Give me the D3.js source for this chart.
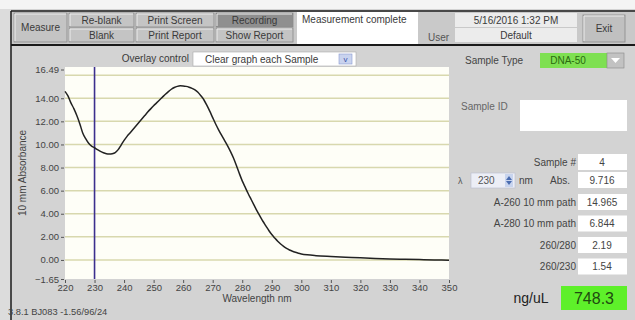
<!DOCTYPE html>
<html><head><meta charset="utf-8">
<script src="https://cdn.jsdelivr.net/npm/d3@7/dist/d3.min.js"></script>
<style>
body{margin:0;background:#fff;}
svg{display:block;font-family:"Liberation Sans",Arial,sans-serif;}
</style></head>
<body>
<svg id="c" width="635" height="320"></svg>
<script>
// ---- data ----
const wavelengths = [220,221,222,223,224,225,226,227,228,229,230,231,232,233,234,235,236,237,238,239,240,241,242,243,244,245,246,247,248,249,250,251,252,253,254,255,256,257,258,259,260,261,262,263,264,265,266,267,268,269,270,271,272,273,274,275,276,277,278,279,280,281,282,283,284,285,286,287,288,289,290,291,292,293,294,295,296,297,298,299,300,302,305,310,315,320,325,330,335,340,345,350];
const absorbance = [14.6,14.2,13.6,13.1,12.5,11.8,11.0,10.5,10.1,9.85,9.716,9.55,9.4,9.28,9.2,9.17,9.2,9.3,9.55,9.95,10.35,10.7,11.0,11.3,11.6,11.9,12.2,12.5,12.8,13.08,13.35,13.6,13.85,14.1,14.35,14.58,14.78,14.93,15.03,15.08,15.07,15.03,14.96,14.86,14.72,14.52,14.22,13.87,13.4,12.88,12.32,11.77,11.27,10.8,10.35,9.9,9.4,8.85,8.2,7.5,6.85,6.3,5.75,5.25,4.75,4.25,3.8,3.35,2.95,2.55,2.2,1.9,1.62,1.38,1.17,1.0,0.86,0.75,0.66,0.58,0.52,0.44,0.37,0.3,0.24,0.18,0.13,0.09,0.06,0.03,0.0,-0.03];
const yTicks = [-1.65,0,2,4,6,8,10,12,14,16.49];
const gridValues = [0,2,4,6,8,10,12,14,16];
const xTicks = [220,230,240,250,260,270,280,290,300,310,320,330,340,350];
const cursorWavelength = 230;
const toolbarTop = ["Re-blank","Print Screen","Recording"];
const toolbarBottom = ["Blank","Print Report","Show Report"];
const resultLabels = ["A-260 10 mm path","A-280 10 mm path","260/280","260/230"];
const resultValues = ["14.965","6.844","2.19","1.54"];
const sampleNumber = "4";
const absAtCursor = "9.716";
const concentration = "748.3";

const svg = d3.select("#c");
const txt = "#3a3a3a";

// background
svg.append("rect").attr("width",635).attr("height",320).attr("fill","#d3d3d3");
svg.append("rect").attr("width",635).attr("height",9).attr("fill","#f4f4f4");
svg.append("rect").attr("x",0).attr("y",9).attr("width",11).attr("height",311).attr("fill","#dcdcdc");
// frame lines
svg.append("line").attr("x1",11).attr("x2",635).attr("y1",11).attr("y2",11).attr("stroke","#1a1a1a").attr("stroke-width",1.5);
svg.append("line").attr("x1",11).attr("x2",11).attr("y1",11).attr("y2",320).attr("stroke","#1a1a1a").attr("stroke-width",1.5);
svg.append("line").attr("x1",11).attr("x2",635).attr("y1",45).attr("y2",45).attr("stroke","#1a1a1a").attr("stroke-width",2);
svg.append("rect").attr("x",12).attr("y",12).attr("width",623).attr("height",32).attr("fill","#c9c9c9");

function button(x,y,w,h,label,fill,fs){
  const g = svg.append("g");
  g.append("rect").attr("x",x).attr("y",y).attr("width",w).attr("height",h).attr("fill",fill||"#c4c4c4")
    .attr("stroke","#8a8a8a").attr("stroke-width",0.8);
  g.append("line").attr("x1",x+1).attr("x2",x+w-1).attr("y1",y+1).attr("y2",y+1).attr("stroke","#ececec");
  g.append("line").attr("x1",x+1).attr("x2",x+1).attr("y1",y+1).attr("y2",y+h-1).attr("stroke","#ececec");
  g.append("text").attr("x",x+w/2).attr("y",y+h/2+3.5).attr("text-anchor","middle")
    .attr("font-size",fs||10).attr("fill",txt).text(label);
}
button(14,13,53,29,"Measure");
const bx = [69,136,216], bw = [65,78,77];
toolbarTop.forEach((t,i)=>button(bx[i],13,bw[i],14,t, t==="Recording"?"#8f8f8f":"#c4c4c4"));
toolbarBottom.forEach((t,i)=>button(bx[i],28,bw[i],14,t));
// status box
svg.append("rect").attr("x",297).attr("y",12).attr("width",121).attr("height",32).attr("fill","#fff");
svg.append("text").attr("x",302).attr("y",23).attr("font-size",10).attr("fill",txt).text("Measurement complete");
svg.append("text").attr("x",428).attr("y",41).attr("font-size",10).attr("fill","#555").text("User");
svg.append("rect").attr("x",455).attr("y",13).attr("width",122).attr("height",14).attr("fill","#ececec");
svg.append("text").attr("x",516).attr("y",24).attr("text-anchor","middle").attr("font-size",10).attr("fill",txt).text("5/16/2016  1:32 PM");
svg.append("rect").attr("x",455).attr("y",28).attr("width",122).attr("height",14).attr("fill","#ececec");
svg.append("text").attr("x",516).attr("y",39).attr("text-anchor","middle").attr("font-size",10).attr("fill",txt).text("Default");
button(583,15,42,27,"Exit","#c0c0c0",10);

// overlay control
svg.append("text").attr("x",189).attr("y",62).attr("text-anchor","end").attr("font-size",10).attr("fill",txt).text("Overlay control");
svg.append("rect").attr("x",193).attr("y",52).attr("width",163).attr("height",14).attr("fill","#fff").attr("stroke","#aaa").attr("stroke-width",0.6);
svg.append("text").attr("x",205).attr("y",63).attr("font-size",10).attr("fill",txt).text("Clear graph each Sample");
svg.append("rect").attr("x",339).attr("y",54).attr("width",13).attr("height",10).attr("fill","#c9d3ee").attr("stroke","#8a9ad0").attr("stroke-width",0.6);
svg.append("text").attr("x",345.5).attr("y",62).attr("text-anchor","middle").attr("font-size",8).attr("fill","#3a4fa8").text("v");

// ---- chart ----
const x = d3.scaleLinear().domain([220,350]).range([65,449]);
const y = d3.scaleLinear().domain([-1.65,16.49]).range([279,69.5]);

svg.append("rect").attr("x",65).attr("y",67).attr("width",384).attr("height",212).attr("fill","#fefef7");
svg.append("g").selectAll("line").data(gridValues).join("line")
  .attr("x1",65).attr("x2",449).attr("y1",d=>y(d)).attr("y2",d=>y(d))
  .attr("stroke","#d8d8ae").attr("stroke-width",1.5);

const yAxis = svg.append("g").attr("transform","translate(64,0)")
  .call(d3.axisLeft(y).tickValues(yTicks).tickFormat(d3.format(".2f")).tickSize(3).tickPadding(2));
yAxis.select(".domain").remove();
yAxis.selectAll("text").attr("font-size",9.5).attr("fill","#444").attr("font-family","Liberation Sans, Arial, sans-serif");
yAxis.selectAll("line").attr("stroke","#555");

const xAxis = svg.append("g").attr("transform","translate(0,280)")
  .call(d3.axisBottom(x).tickValues(xTicks).tickFormat(d3.format("d")).tickSize(3).tickPadding(1.5));
xAxis.select(".domain").remove();
xAxis.selectAll("text").attr("font-size",9.5).attr("fill","#444").attr("font-family","Liberation Sans, Arial, sans-serif");
xAxis.selectAll("line").attr("stroke","#555");

svg.append("text").attr("x",257).attr("y",302).attr("text-anchor","middle").attr("font-size",10).attr("fill","#444").text("Wavelength nm");
svg.append("text").attr("transform","translate(26,173) rotate(-90)").attr("text-anchor","middle").attr("font-size",10).attr("fill","#444").text("10 mm Absorbance");

// cursor line
svg.append("line").attr("x1",x(cursorWavelength)).attr("x2",x(cursorWavelength)).attr("y1",67).attr("y2",279)
  .attr("stroke","#3c2f8e").attr("stroke-width",1.6);

const pts = wavelengths.map((w,i)=>[w,absorbance[i]]);
svg.append("path").datum(pts)
  .attr("d",d3.line().x(d=>x(d[0])).y(d=>y(d[1])).curve(d3.curveMonotoneX))
  .attr("fill","none").attr("stroke","#222").attr("stroke-width",1.5);

svg.append("text").attr("x",8).attr("y",315).attr("font-size",9.3).attr("fill","#444").text("3.8.1 BJ083 -1.56/96/24");

// ---- right panel ----
svg.append("text").attr("x",465).attr("y",64).attr("font-size",10).attr("fill","#444").text("Sample Type");
svg.append("rect").attr("x",540).attr("y",53).attr("width",67).attr("height",15).attr("fill","#7ee052");
svg.append("text").attr("x",568).attr("y",64).attr("text-anchor","middle").attr("font-size",10).attr("fill","#2a6a10").text("DNA-50");
svg.append("rect").attr("x",607).attr("y",53).attr("width",17).attr("height",15).attr("fill","#c2c2c2").attr("stroke","#888").attr("stroke-width",0.6);
svg.append("path").attr("d","M611,58 L620,58 L615.5,63 Z").attr("fill","#fff");

svg.append("text").attr("x",461).attr("y",110).attr("font-size",10).attr("fill","#666").text("Sample ID");
svg.append("rect").attr("x",520).attr("y",100).attr("width",107).attr("height",31).attr("fill","#fff");

function field(yTop,label,val,lx){
  svg.append("text").attr("x",lx||576).attr("y",yTop+11.5).attr("text-anchor","end").attr("font-size",10).attr("fill","#444").text(label);
  svg.append("rect").attr("x",578).attr("y",yTop).attr("width",49).attr("height",16).attr("fill","#fff");
  svg.append("text").attr("x",602).attr("y",yTop+11.5).attr("text-anchor","middle").attr("font-size",10).attr("fill","#444").text(val);
}
field(154,"Sample #",sampleNumber);
// lambda row
svg.append("text").attr("x",458).attr("y",184).attr("font-size",9).attr("fill","#555").text("λ");
svg.append("rect").attr("x",471).attr("y",173).attr("width",44).attr("height",15).attr("fill","#eceef6").attr("stroke","#b8bcd0").attr("stroke-width",0.6);
svg.append("text").attr("x",478).attr("y",184).attr("font-size",10).attr("fill","#555").text(String(cursorWavelength));
svg.append("rect").attr("x",505).attr("y",174).attr("width",8).attr("height",13).attr("fill","#c8d4ee");
svg.append("path").attr("d","M506,180 L509,176 L512,180 Z M506,181 L509,185 L512,181 Z").attr("fill","#4a6cb0");
svg.append("text").attr("x",519).attr("y",184).attr("font-size",10).attr("fill","#444").text("nm");
field(172,"Abs.",absAtCursor,570);
resultLabels.forEach((l,i)=>field(194+i*21.5,l,resultValues[i]));

svg.append("text").attr("x",531).attr("y",303).attr("text-anchor","middle").attr("font-size",14).attr("fill","#222").text("ng/uL");
svg.append("rect").attr("x",561).attr("y",286).attr("width",66).attr("height",24).attr("fill","#5ef02a");
svg.append("text").attr("x",594).attr("y",304).attr("text-anchor","middle").attr("font-size",16).attr("fill","#1f4a10").text(concentration);
</script>
</body></html>
